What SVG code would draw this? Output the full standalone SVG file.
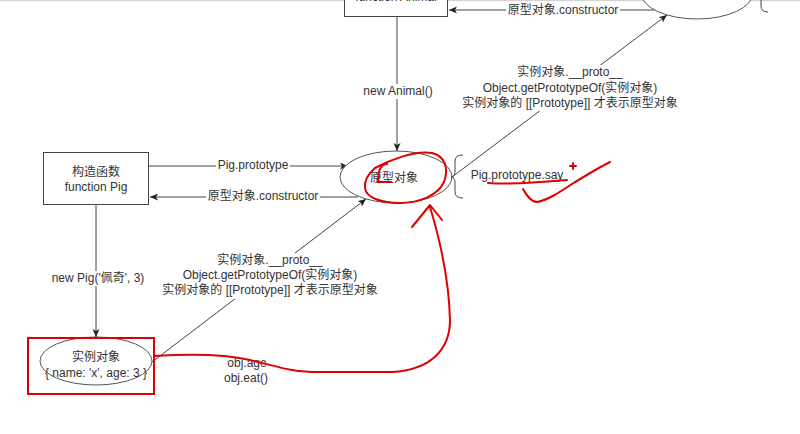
<svg xmlns="http://www.w3.org/2000/svg" width="800" height="434" viewBox="0 0 800 434">
<style>
text{font-family:"Liberation Sans","Noto Sans CJK SC",sans-serif;font-size:12px;fill:#333;text-anchor:middle;dominant-baseline:central}
.box{fill:#fff;stroke:#444;stroke-width:1}
.ell{fill:#fff;stroke:#555;stroke-width:1}
.ln{fill:none;stroke:#444;stroke-width:1}
.bg{fill:#fff}
.red{fill:none;stroke:#e00000;stroke-width:2;stroke-linecap:round;stroke-linejoin:round}
</style>
<defs>
<marker id="arr" markerWidth="9" markerHeight="8" refX="8" refY="3.5" orient="auto" markerUnits="userSpaceOnUse">
<path d="M0,0 L8,3.5 L0,7 L2,3.5 z" fill="#222"/>
</marker>
</defs>
<rect x="0" y="0" width="800" height="434" fill="#fff"/>
<rect x="0" y="0" width="800" height="1.2" fill="#d4d4d4"/>

<g id="connectors">
<path class="ln" d="M397 16 V151" marker-end="url(#arr)"/>
<path class="ln" d="M656 10 H449" marker-end="url(#arr)"/>
<path class="ln" d="M148 166 H348" marker-end="url(#arr)"/>
<path class="ln" d="M358 197 H150" marker-end="url(#arr)"/>
<path class="ln" d="M96 204 V337" marker-end="url(#arr)"/>
<path class="ln" d="M152 362 L366 199" marker-end="url(#arr)"/>
<path class="ln" d="M452 177 L667 15" marker-end="url(#arr)"/>

<rect class="bg" x="360" y="84" width="74" height="15"/>
<text x="398" y="91">new Animal()</text>
<rect class="bg" x="506" y="3" width="114" height="15"/>
<text x="563" y="10">原型对象.constructor</text>
<rect class="bg" x="216" y="158" width="74" height="15"/>
<text x="253" y="165">Pig.prototype</text>
<rect class="bg" x="206" y="189" width="114" height="15"/>
<text x="263" y="196">原型对象.constructor</text>
<rect class="bg" x="50" y="271" width="96" height="15"/>
<text x="98" y="278">new Pig('佩奇', 3)</text>

<rect class="bg" x="515" y="65" width="110" height="46"/>
<rect class="bg" x="462" y="95" width="218" height="16"/>
<text x="570" y="72">实例对象.__proto__</text>
<text x="570" y="88">Object.getPrototypeOf(实例对象)</text>
<text x="570" y="103">实例对象的 [[Prototype]] 才表示原型对象</text>

<rect class="bg" x="215" y="253" width="110" height="46"/>
<rect class="bg" x="162" y="282" width="218" height="16"/>
<text x="270" y="260">实例对象.__proto__</text>
<text x="270" y="275">Object.getPrototypeOf(实例对象)</text>
<text x="270" y="290">实例对象的 [[Prototype]] 才表示原型对象</text>

<text x="247" y="363">obj.age</text>
<text x="246" y="378">obj.eat()</text>
</g>

<g id="node-animal">
<rect class="box" x="344.5" y="-36" width="103" height="52.5"/>
<text x="396" y="-3">function Animal</text>
</g>

<g id="node-animal-proto">
<ellipse class="ell" cx="697" cy="-7" rx="56" ry="26"/>
<path class="ln" d="M768 -31 Q761 -31 761 -25 V-15 Q761 -10 757 -10 Q761 -10 761 -5 V6 Q761 12 768 12"/>
</g>

<g id="node-pig">
<rect class="box" x="43.5" y="152.5" width="105" height="52"/>
<text x="96" y="172">构造函数</text>
<text x="96" y="187">function Pig</text>
</g>

<g id="node-pig-proto">
<ellipse class="ell" cx="396" cy="177" rx="56" ry="26"/>
<text x="394" y="178">原型对象</text>
<path class="ln" d="M463 155 Q455 155 455 161 V171 Q455 177 451 177 Q455 177 455 183 V192 Q455 198 463 198"/>
<text x="517" y="175">Pig.prototype.say</text>
</g>

<g id="node-instance">
<ellipse class="ell" cx="96" cy="361" rx="56" ry="24"/>
<text x="96" y="357">实例对象</text>
<text x="96" y="373">{ name: 'x', age: 3 }</text>
</g>

<g id="annotations">
<rect x="28" y="338" width="126" height="56" fill="none" stroke="#e00000" stroke-width="2"/>
<path class="red" d="M154 356 C185 354 220 353 250 360 S290 372 320 372 L392 372 C430 370 450 350 450 320 C449 280 440 240 430 207"/>
<path class="red" d="M412 227 L430 205 L442 220"/>
<path class="red" d="M387 164 C381 164 378 170 378 182 L391 182"/>
<path class="red" d="M375 168 C390 160 415 150 432 153 C445 156 449 168 444 182 C438 195 420 203 400 203 C382 203 366 198 365 188 C364 180 368 174 375 168"/>
<path class="red" d="M488 183 C515 185 545 182 567 180"/>
<path class="red" d="M523 189 C527 196 531 202 537 202 C548 200 560 192 572 184 C585 176 598 168 610 162"/>
<path class="red" d="M570 166 H576 M573 163 V169" stroke-width="1.5"/>
</g>
</svg>
